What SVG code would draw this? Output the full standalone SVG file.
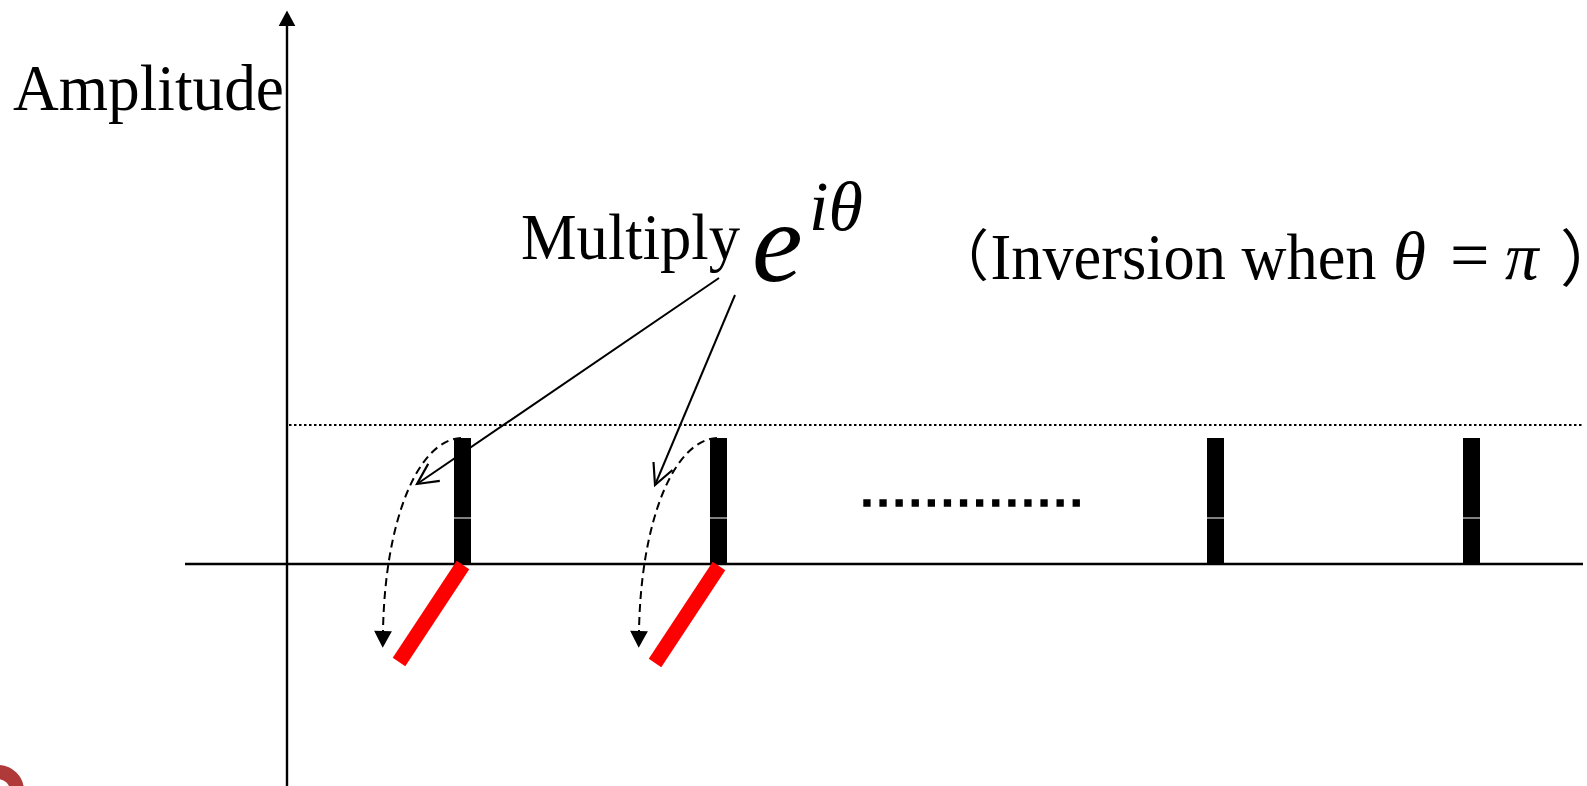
<svg xmlns="http://www.w3.org/2000/svg" width="1587" height="786" viewBox="0 0 1587 786">
<style>
.lbl{font-family:"Liberation Serif","Times New Roman",serif;fill:#000}
.mi{font-family:"Liberation Serif","Times New Roman",serif;font-style:italic;fill:#000}
.cjk{font-family:"Liberation Serif","Noto Sans CJK JP",serif;fill:#000}
.axis{stroke:#000;stroke-width:2.4;fill:none}
.bar{fill:#000}
.sep{stroke:#fff;stroke-width:1}
.red{stroke:#FF0000;stroke-width:15;fill:none}
.dash{stroke:#000;stroke-width:2;fill:none;stroke-dasharray:8 5}
.ptr{stroke:#000;stroke-width:2;fill:none}
</style>
<defs>
<marker id="axhead" markerUnits="userSpaceOnUse" markerWidth="20" markerHeight="20" refX="0" refY="0" viewBox="-2 -9 18 18" orient="auto">
<path d="M0,-7.5 L14,0 L0,7.5 z" fill="#000"/>
</marker>
<marker id="tri" markerUnits="userSpaceOnUse" markerWidth="20" markerHeight="20" refX="0" refY="0" viewBox="-2 -9 18 18" orient="auto">
<path d="M0,-8 L15,0 L0,8 z" fill="#000"/>
</marker>
<marker id="vee" markerUnits="userSpaceOnUse" markerWidth="26" markerHeight="26" refX="0" refY="0" viewBox="-22 -12 24 24" orient="auto">
<path d="M-19,-9.5 L0,0 L-19,9.5" fill="none" stroke="#000" stroke-width="2"/>
</marker>
</defs>
<rect width="1587" height="786" fill="#fff"/>

<g id="axes">
<line class="axis" x1="287" y1="786" x2="287" y2="26" marker-end="url(#axhead)"/>
<line class="axis" x1="185" y1="564" x2="1583" y2="564"/>
<line x1="289" y1="425" x2="1583" y2="425" stroke="#000" stroke-width="2" stroke-dasharray="2.5 2.5"/>
</g>

<g id="label-amplitude">
<text class="lbl" x="13" y="109.5" font-size="66" textLength="271" lengthAdjust="spacingAndGlyphs">Amplitude</text>
</g>

<g id="label-multiply">
<text class="lbl" x="521" y="259" font-size="66" textLength="219" lengthAdjust="spacingAndGlyphs">Multiply</text>
<text class="mi" x="752" y="281" font-size="114">e</text>
<text class="mi" x="809" y="230" font-size="70">iθ</text>
</g>

<g id="label-inversion">
<text class="cjk" x="933" y="276" font-size="56">（</text>
<text class="lbl" x="990.5" y="279" font-size="66" textLength="386" lengthAdjust="spacingAndGlyphs">Inversion when</text>
<text class="mi" x="1393" y="279" font-size="67">θ</text>
<text class="lbl" x="1450" y="279" font-size="70">=</text>
<text class="mi" x="1505" y="279" font-size="67">π</text>
<text class="cjk" x="1560" y="282" font-size="62">）</text>
</g>

<g id="bar1">
<rect class="bar" x="454" y="438" width="17" height="126"/>
<line class="sep" x1="454" y1="518" x2="471" y2="518"/>
<line class="red" x1="463" y1="565" x2="399" y2="662"/>
</g>
<g id="bar2">
<rect class="bar" x="710" y="438" width="17" height="126"/>
<line class="sep" x1="710" y1="518" x2="727" y2="518"/>
<line class="red" x1="719" y1="566" x2="655" y2="663"/>
</g>
<g id="ellipsis">
<line x1="863.3" y1="503" x2="1080" y2="503" stroke="#000" stroke-width="7.5" stroke-dasharray="7.3 8.8"/>
</g>
<g id="bar3">
<rect class="bar" x="1207" y="438" width="17" height="126"/>
<line class="sep" x1="1207" y1="518" x2="1224" y2="518"/>
</g>
<g id="bar4">
<rect class="bar" x="1463" y="438" width="17" height="126"/>
<line class="sep" x1="1463" y1="518" x2="1480" y2="518"/>
</g>

<g id="connectors">
<path class="dash" d="M461,438 C418,440 385,520 383,631" marker-end="url(#tri)"/>
<path class="dash" d="M717,438 C674,440 641,520 639,631" marker-end="url(#tri)"/>
<line class="ptr" x1="719" y1="278" x2="417" y2="484" marker-end="url(#vee)"/>
<line class="ptr" x1="735" y1="295" x2="655" y2="485" marker-end="url(#vee)"/>
</g>

<g id="corner-mark">
<circle cx="-2" cy="791" r="19" fill="none" stroke="#B03A3A" stroke-width="14"/>
</g>
</svg>
